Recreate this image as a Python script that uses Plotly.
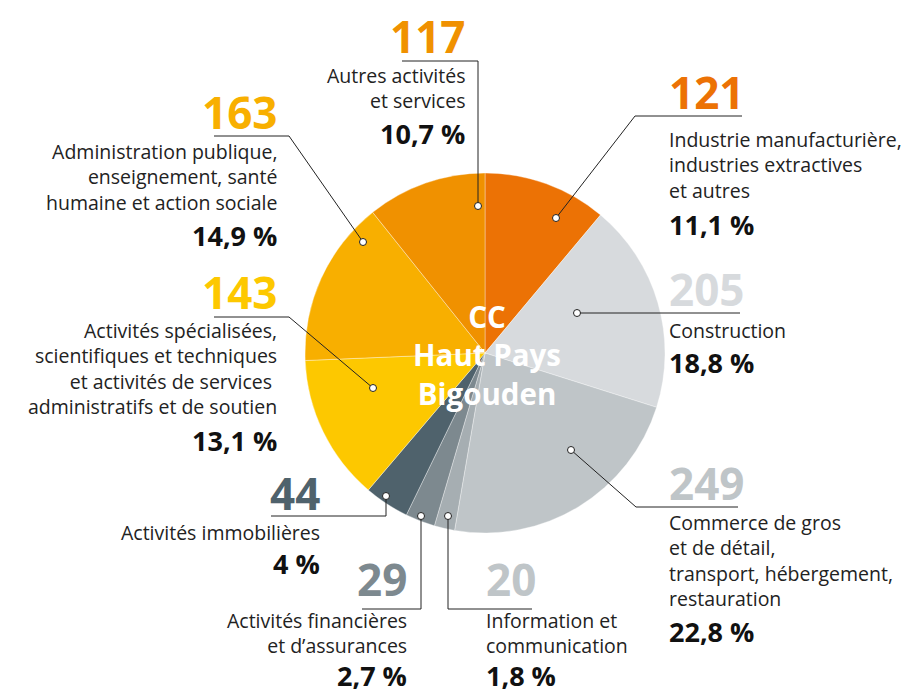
import plotly.graph_objects as go

W, H = 920, 693

# data
categories = [
    "Industrie manufacturière,<br>industries extractives<br>et autres",
    "Construction",
    "Commerce de gros<br>et de détail,<br>transport, hébergement,<br>restauration",
    "Information et<br>communication",
    "Activités financières<br>et d’assurances",
    "Activités immobilières",
    "Activités spécialisées,<br>scientifiques et techniques<br>et activités de services\u00a0<br>administratifs et de soutien",
    "Administration publique,<br>enseignement, santé<br>humaine et action sociale",
    "Autres activités<br>et services",
]
values = [121, 205, 249, 20, 29, 44, 143, 163, 117]
percents = ["11,1 %", "18,8 %", "22,8 %", "1,8 %", "2,7 %", "4 %", "13,1 %", "14,9 %", "10,7 %"]
colors = ["#EC7205", "#D7DADD", "#BFC5C8", "#A6AEB2", "#7D898F", "#4F626C", "#FDC800", "#F8AF00", "#F09100"]
number_colors = ["#EC7205", "#D7DADD", "#BFC5C8", "#BFC5C8", "#7D898F", "#4F626C", "#FDC800", "#F8AF00", "#F09100"]

# label layout (pixels): leader path (starts at dot), side, text x, y of number / label block centre / percent
label_pos = [
    dict(path=[(556, 218), (635, 116), (742, 116)], side="left", x=668, yn=92, yl=165, yp=224),
    dict(path=[(577, 313), (740, 313)], side="left", x=668, yn=289, yl=330, yp=362),
    dict(path=[(571, 450), (636, 507), (738, 507)], side="left", x=668, yn=483, yl=560, yp=631),
    dict(path=[(448, 516), (448, 609), (532, 609)], side="left", x=485, yn=579, yl=633, yp=675.5),
    dict(path=[(421, 516), (421, 609), (362, 609)], side="right", x=408, yn=579, yl=633, yp=675.5),
    dict(path=[(386, 496), (386, 516), (271, 516)], side="right", x=321, yn=493, yl=532, yp=563),
    dict(path=[(373, 388), (289, 317), (214, 317)], side="right", x=278, yn=292, yl=368, yp=440),
    dict(path=[(363, 242), (289, 136), (214, 136)], side="right", x=278, yn=112, yl=177, yp=235),
    dict(path=[(478, 206), (478, 61), (402, 61)], side="right", x=466, yn=36, yl=88, yp=133),
]

FONT = "Open Sans"


def px(x):
    return x / W


def py(y):
    return 1 - y / H


fig = go.Figure()
fig.add_trace(go.Pie(
    labels=[c.replace("<br>", " ") for c in categories], values=values,
    marker=dict(colors=colors, line=dict(color="rgba(255,255,255,0.6)", width=0.6)),
    sort=False, direction="clockwise", rotation=0,
    textinfo="none", hoverinfo="label+value+percent",
    domain=dict(x=[px(305), px(665)], y=[py(533), py(173)]),
))

shapes = []
annotations = []


def add_text(text, x, y, anchor, size, color):
    annotations.append(dict(text=text, x=px(x), y=py(y), xref="paper", yref="paper",
                            xanchor=anchor, yanchor="middle", showarrow=False,
                            align="left" if anchor == "left" else anchor,
                            borderpad=0, font=dict(family=FONT, size=size, color=color)))


for i, lp in enumerate(label_pos):
    pts = lp["path"]
    d = "M " + " L ".join(f"{px(x)},{py(y)}" for x, y in pts)
    shapes.append(dict(type="path", path=d, xref="paper", yref="paper",
                       line=dict(color="#222222", width=1)))
    dx, dy = pts[0]
    shapes.append(dict(type="circle", xref="paper", yref="paper",
                       x0=px(dx - 3.5), x1=px(dx + 3.5), y0=py(dy + 3.5), y1=py(dy - 3.5),
                       fillcolor="white", line=dict(color="#222222", width=1)))
    side = lp["side"]
    add_text(f"<b>{values[i]}</b>", lp["x"], lp["yn"], side, 44, number_colors[i])
    add_text(categories[i], lp["x"], lp["yl"], side, 19.5, "#222222")
    add_text(f"<b>{percents[i]}</b>", lp["x"], lp["yp"], side, 27, "#111111")

add_text("<b>CC<br>Haut Pays<br>Bigouden</b>", 487, 355, "center", 29.5, "white")

fig.update_layout(
    width=W, height=H, margin=dict(l=0, r=0, t=0, b=0),
    paper_bgcolor="white", plot_bgcolor="white", showlegend=False,
    shapes=shapes, annotations=annotations,
)
fig.write_html("out.html", config={"displayModeBar": False},
               post_script="document.body.style.margin='0';")
